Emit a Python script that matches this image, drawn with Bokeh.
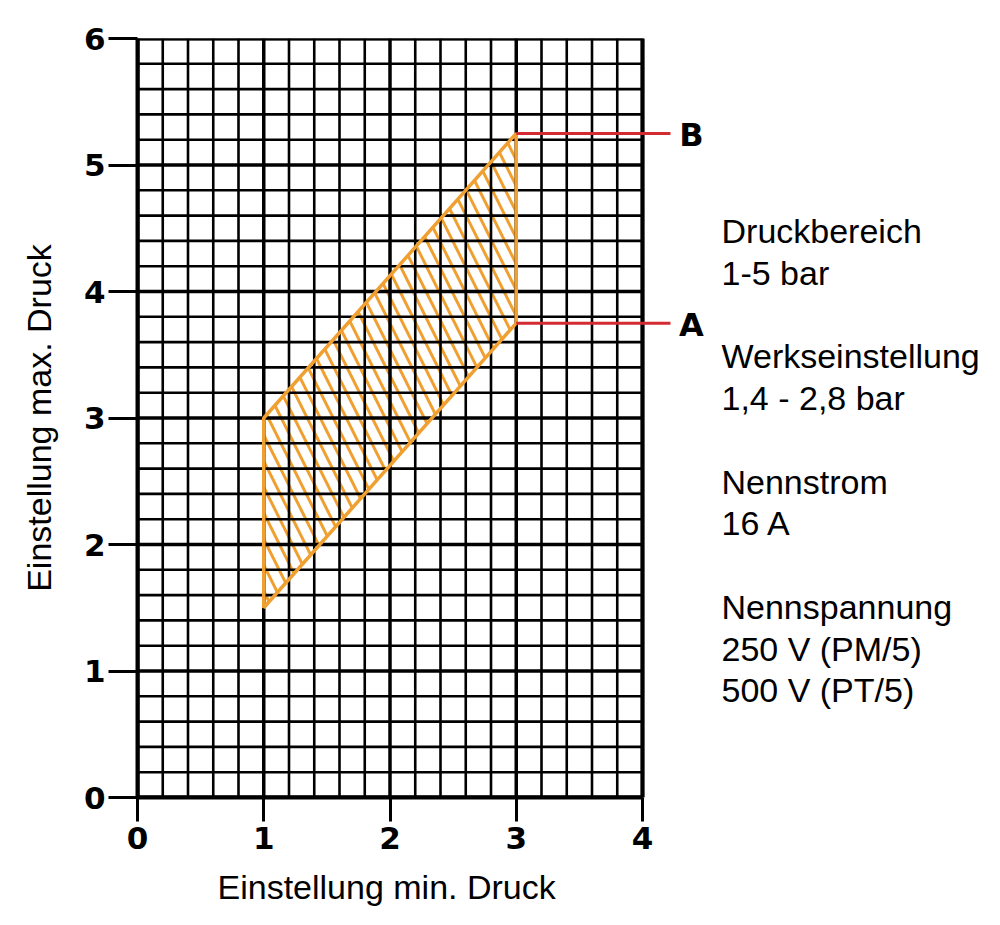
from bokeh.plotting import figure
from bokeh.models import FixedTicker, Label, Range1d, Title
from bokeh.embed import file_html
from bokeh.resources import INLINE
import numpy as np

# ---- data ----
region_x = [1.0, 1.0, 3.0, 3.0]          # Einstellung min. Druck
region_y = [1.5, 3.0, 5.25, 3.75]        # Einstellung max. Druck
x_ticks = [0, 1, 2, 3, 4]
y_ticks = [0, 1, 2, 3, 4, 5, 6]
marker_names = ["B", "A"]
marker_x = [3.0, 3.0]
marker_y = [5.25, 3.75]
info_lines = ["Druckbereich", "1-5 bar", "",
              "Werkseinstellung", "1,4 - 2,8 bar", "",
              "Nennstrom", "16 A", "",
              "Nennspannung", "250 V (PM/5)", "500 V (PT/5)"]

ORANGE = "#F0A030"
RED = "#D42A32"
TEXT_FONT = "Liberation Sans"
TEXT_SIZE = "34px"

X_MAX, Y_MAX = x_ticks[-1], y_ticks[-1]
STEP = 0.2
PX_X = 126.25          # pixels per x unit
PX_Y = 760 / 6.0       # pixels per y unit
LEFT, TOP, RIGHT_PAD = 137, 38, 3
W, H = 995, 920
frame_w = W - LEFT - RIGHT_PAD
x_end = frame_w / PX_X

p = figure(width=W, height=H, output_backend="svg", toolbar_location=None,
           x_range=Range1d(0, x_end), y_range=Range1d(0, Y_MAX),
           min_border_left=LEFT, min_border_right=RIGHT_PAD,
           min_border_top=TOP, min_border_bottom=H - TOP - 760,
           background_fill_color="white", border_fill_color="white")
p.outline_line_color = None
p.xgrid.visible = False
p.ygrid.visible = False

p.xaxis.ticker = FixedTicker(ticks=x_ticks)
p.yaxis.ticker = FixedTicker(ticks=y_ticks)
p.xaxis.bounds = (0, X_MAX)

for ax in (p.xaxis, p.yaxis):
    ax.axis_line_width = 4
    ax.axis_line_color = "black"
    ax.major_tick_line_width = 3
    ax.major_tick_line_color = "black"
    ax.major_tick_in = 0
    ax.minor_tick_line_color = None
    ax.major_label_text_font = "DejaVu Sans"
    ax.major_label_text_font_style = "bold"
    ax.major_label_text_font_size = "31px"
    ax.major_label_text_color = "black"
    ax.axis_label_text_font = TEXT_FONT
    ax.axis_label_text_font_style = "normal"
    ax.axis_label_text_font_size = TEXT_SIZE
    ax.axis_label_text_color = "black"

p.xaxis.major_tick_out = 24
p.xaxis.major_label_standoff = 5
p.yaxis.major_tick_out = 29
p.yaxis.major_label_standoff = 3
p.yaxis.axis_label = "Einstellung max. Druck"
p.yaxis.axis_label_standoff = 23

# x-axis label, centred under the 0..4 chart area
xlab = Title(text="Einstellung min. Druck", align="left", offset=80,
             text_font=TEXT_FONT, text_font_style="normal",
             text_font_size=TEXT_SIZE, text_color="black", standoff=29)
p.add_layout(xlab, "below")

# hatched region (below grid)
hatch = p.patch(region_x, region_y, fill_alpha=0, line_color=None,
                hatch_pattern="\\", hatch_color=ORANGE, hatch_weight=3, hatch_scale=26)
hatch.level = "image"

# grid lines, limited to the chart area
gx = np.round(np.arange(0, X_MAX + 1e-9, STEP), 6)
gy = np.round(np.arange(0, Y_MAX + 1e-9, STEP), 6)
gx_major = [v for v in gx if abs(v - round(v)) < 1e-6]
gx_minor = [v for v in gx if abs(v - round(v)) >= 1e-6]
gy_major = [v for v in gy if abs(v - round(v)) < 1e-6]
gy_minor = [v for v in gy if abs(v - round(v)) >= 1e-6]
for xs, w in ((gx_minor, 2.6), (gx_major, 3.5)):
    r = p.segment(x0=xs, y0=[0] * len(xs), x1=xs, y1=[Y_MAX] * len(xs),
                  line_color="black", line_width=w)
    r.level = "underlay"
for ys, w in ((gy_minor, 2.6), (gy_major, 3.5)):
    r = p.segment(x0=[0] * len(ys), y0=ys, x1=[X_MAX] * len(ys), y1=ys,
                  line_color="black", line_width=w)
    r.level = "underlay"

# right and top frame edges of the chart area
p.quad(left=[0], right=[X_MAX], bottom=[0], top=[Y_MAX], fill_alpha=0,
       line_color="black", line_width=4)

# border of the region (above grid)
p.patch(region_x, region_y, fill_alpha=0, line_color=ORANGE, line_width=3.5)

# leader lines and labels A / B
line_end = X_MAX + 28 / PX_X
label_x = X_MAX + 49 / PX_X
p.segment(x0=marker_x, y0=marker_y, x1=[line_end] * len(marker_x), y1=marker_y,
          line_color=RED, line_width=3)
for name, my in zip(marker_names, marker_y):
    p.add_layout(Label(x=label_x, y=my, y_offset=-2, text=name, text_align="center",
                       text_baseline="middle", text_font="DejaVu Sans",
                       text_font_style="bold", text_font_size="32px", text_color="black"))

# info text on the right
info_x = X_MAX + 79 / PX_X
for i, t in enumerate(info_lines):
    if not t:
        continue
    ypix = 231 + 41.8 * i
    yv = Y_MAX - (ypix - TOP) / PX_Y
    p.add_layout(Label(x=info_x, y=yv, text=t, text_align="left",
                       text_baseline="alphabetic", text_font=TEXT_FONT,
                       text_font_size=TEXT_SIZE, text_color="black"))

open("out.html", "w").write(file_html(p, INLINE))
